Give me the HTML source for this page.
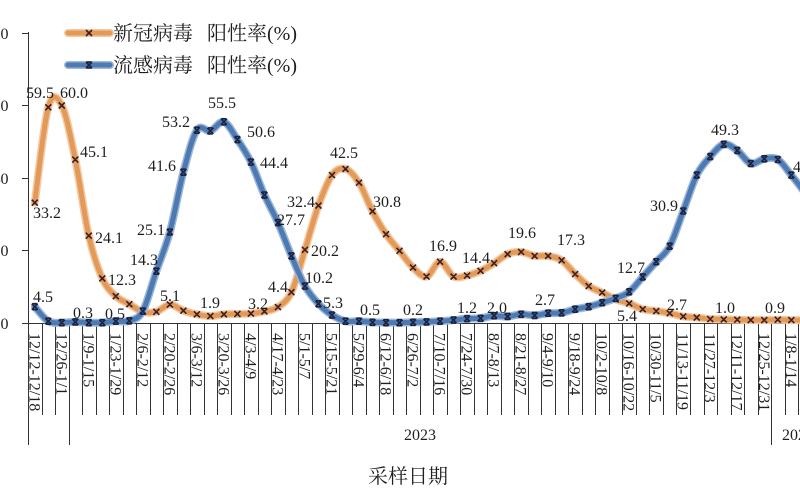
<!DOCTYPE html>
<html><head><meta charset="utf-8">
<style>
html,body{margin:0;padding:0;background:#fff;width:800px;height:500px;overflow:hidden;}
svg{display:block;}
text{font-family:"Liberation Serif","Noto Serif CJK SC",serif;fill:#1e1e1e;}
.dl{font-size:16px;}
.xl{font-size:16px;}
.yl{font-size:16px;text-anchor:end;}
</style></head>
<body>
<svg id="c" width="800" height="500" viewBox="0 0 800 500" xmlns="http://www.w3.org/2000/svg">
<rect width="800" height="500" fill="#fff"/>
<g id="axes" stroke="#333" stroke-width="1" fill="none">
  <line x1="28.5" y1="32" x2="28.5" y2="323"/>
  <line x1="28" y1="323.5" x2="800" y2="323.5"/>
  <line x1="22" y1="33.5" x2="28.5" y2="33.5"/>
  <line x1="22" y1="105.5" x2="28.5" y2="105.5"/>
  <line x1="22" y1="178.5" x2="28.5" y2="178.5"/>
  <line x1="22" y1="250.5" x2="28.5" y2="250.5"/>
  <line x1="22" y1="323.5" x2="28.5" y2="323.5"/>
</g>
<g id="vlines" stroke="#333" stroke-width="1"></g>

<g>
<text class="yl" x="8.5" y="39">80</text>
<text class="yl" x="8.5" y="111">60</text>
<text class="yl" x="8.5" y="184">40</text>
<text class="yl" x="8.5" y="256">20</text>
<text class="yl" x="8.5" y="329">0</text>
</g>

<g>
<text class="xl" transform="translate(29.3,333) rotate(90)">12/12-12/18</text>
<text class="xl" transform="translate(56.3,333) rotate(90)">12/26-1/1</text>
<text class="xl" transform="translate(83.3,333) rotate(90)">1/9-1/15</text>
<text class="xl" transform="translate(110.3,333) rotate(90)">1/23-1/29</text>
<text class="xl" transform="translate(137.3,333) rotate(90)">2/6-2/12</text>
<text class="xl" transform="translate(164.4,333) rotate(90)">2/20-2/26</text>
<text class="xl" transform="translate(191.4,333) rotate(90)">3/6-3/12</text>
<text class="xl" transform="translate(218.4,333) rotate(90)">3/20-3/26</text>
<text class="xl" transform="translate(245.4,333) rotate(90)">4/3-4/9</text>
<text class="xl" transform="translate(272.4,333) rotate(90)">4/17-4/23</text>
<text class="xl" transform="translate(299.4,333) rotate(90)">5/1-5/7</text>
<text class="xl" transform="translate(326.5,333) rotate(90)">5/15-5/21</text>
<text class="xl" transform="translate(353.5,333) rotate(90)">5/29-6/4</text>
<text class="xl" transform="translate(380.5,333) rotate(90)">6/12-6/18</text>
<text class="xl" transform="translate(407.5,333) rotate(90)">6/26-7/2</text>
<text class="xl" transform="translate(434.5,333) rotate(90)">7/10-7/16</text>
<text class="xl" transform="translate(461.6,333) rotate(90)">7/24-7/30</text>
<text class="xl" transform="translate(488.6,333) rotate(90)">8/7-8/13</text>
<text class="xl" transform="translate(515.6,333) rotate(90)">8/21-8/27</text>
<text class="xl" transform="translate(542.6,333) rotate(90)">9/4-9/10</text>
<text class="xl" transform="translate(569.6,333) rotate(90)">9/18-9/24</text>
<text class="xl" transform="translate(596.6,333) rotate(90)">10/2-10/8</text>
<text class="xl" transform="translate(623.7,333) rotate(90)">10/16-10/22</text>
<text class="xl" transform="translate(650.7,333) rotate(90)">10/30-11/5</text>
<text class="xl" transform="translate(677.7,333) rotate(90)">11/13-11/19</text>
<text class="xl" transform="translate(704.7,333) rotate(90)">11/27-12/3</text>
<text class="xl" transform="translate(731.7,333) rotate(90)">12/11-12/17</text>
<text class="xl" transform="translate(758.8,333) rotate(90)">12/25-12/31</text>
<text class="xl" transform="translate(785.8,333) rotate(90)">1/8-1/14</text>
</g>

<text x="420" y="440" font-size="16" text-anchor="middle">2023</text>
<text x="782" y="440" font-size="16">2024</text>
<text x="368" y="483" font-size="20" fill="#333">采样日期</text>

<g id="series"></g>

<g class="dl">
<text x="33" y="218">33.2</text>
<text x="26" y="98">59.5</text>
<text x="60" y="98">60.0</text>
<text x="80" y="157">45.1</text>
<text x="95" y="243">24.1</text>
<text x="108" y="285">12.3</text>
<text x="160" y="301">5.1</text>
<text x="200" y="308">1.9</text>
<text x="248" y="309">3.2</text>
<text x="268" y="292">4.4</text>
<text x="311" y="256">20.2</text>
<text x="287" y="207">32.4</text>
<text x="330" y="158">42.5</text>
<text x="373" y="207">30.8</text>
<text x="429" y="251">16.9</text>
<text x="462" y="263">14.4</text>
<text x="508" y="238">19.6</text>
<text x="557" y="245">17.3</text>
<text x="617" y="321">5.4</text>
<text x="667" y="310">2.7</text>
<text x="715" y="313">1.0</text>
<text x="765" y="313">0.9</text>

<text x="33" y="302">4.5</text>
<text x="73" y="318">0.3</text>
<text x="105" y="319">0.5</text>
<text x="130" y="265">14.3</text>
<text x="137" y="235">25.1</text>
<text x="148" y="171">41.6</text>
<text x="162" y="127">53.2</text>
<text x="208" y="108">55.5</text>
<text x="247" y="137">50.6</text>
<text x="260" y="168">44.4</text>
<text x="277" y="225">27.7</text>
<text x="305" y="283">10.2</text>
<text x="323" y="308">5.3</text>
<text x="360" y="315">0.5</text>
<text x="403" y="315">0.2</text>
<text x="457" y="313">1.2</text>
<text x="487" y="313">2.0</text>
<text x="535" y="305">2.7</text>
<text x="617" y="273">12.7</text>
<text x="650" y="211">30.9</text>
<text x="711" y="135">49.3</text>
<text x="793" y="172">40.8</text>
</g>

<g id="legend">
  <line x1="68" y1="33" x2="110" y2="33" stroke="#F3C9A2" stroke-width="8" stroke-linecap="round"/>
  <line x1="68" y1="33" x2="110" y2="33" stroke="#E39A59" stroke-width="5" stroke-linecap="round"/>
  <path d="M86,30 L92,36 M86,36 L92,30" stroke="#3b1f25" stroke-width="1.6"/>
  <line x1="68" y1="65" x2="110" y2="65" stroke="#9DB7D8" stroke-width="8" stroke-linecap="round"/>
  <line x1="68" y1="65" x2="110" y2="65" stroke="#4D7AB3" stroke-width="5" stroke-linecap="round"/>
  <path d="M86,62 L92,68 M86,68 L92,62 M86.5,62 L91.5,62 M86.5,68 L91.5,68" stroke="#1b2340" stroke-width="1.6"/>
  <text x="113" y="40" font-size="20" fill="#333">新冠病毒<tspan x="207">阳性率(%)</tspan></text>
  <text x="113" y="72" font-size="20" fill="#333">流感病毒<tspan x="207">阳性率(%)</tspan></text>
</g>
</svg>
<script>
(function(){
var NS="http://www.w3.org/2000/svg";
var W=13.51, X0=28;
function cx(i){return X0+W*(i+0.5);}
function vy(v){return 323-v*3.625;}
var vl=document.getElementById("vlines");
for(var k=0;k<=58;k++){
  var x=X0+W*k; if(x>800)break;
  var xx=Math.round(x)+0.5;
  var l=document.createElementNS(NS,"line");
  var long=(k===0||k===3||k===55);
  l.setAttribute("x1",xx);l.setAttribute("x2",xx);
  l.setAttribute("y1",323);l.setAttribute("y2",long?445:415);
  vl.appendChild(l);
}
var orange=[33.2,59.5,60.0,45.1,24.1,12.3,7.4,5.2,3.1,3.1,5.1,3.4,2.4,1.9,2.4,2.5,2.6,3.2,4.4,8.5,20.2,32.4,40.8,42.5,38.7,30.8,24.5,19.9,15.3,12.8,16.9,12.8,13.1,14.4,16.5,19.0,19.6,18.5,18.5,17.3,13.5,10.2,8.4,6.5,5.4,3.8,3.3,2.7,1.8,1.5,1.1,1.0,0.9,0.8,0.8,0.9,0.8,0.8];
var blue=[4.5,0.5,0.1,0.3,0.1,0.1,0.5,0.6,3.3,14.3,25.1,41.6,53.2,53.0,55.5,50.6,44.4,35.3,27.7,18.5,10.2,5.3,2.2,0.5,0.5,0.2,0.1,0.1,0.2,0.3,0.5,0.8,1.2,1.3,2.0,1.8,2.4,2.1,2.7,2.8,3.8,4.5,5.6,6.8,8.6,12.7,16.9,21.2,30.9,40.8,45.9,49.3,47.6,44.0,45.3,45.1,40.8,36];
function f(n){return n.toFixed(2);}
function path(vals){
  var p=vals.map(function(v,i){return [cx(i),vy(v)];});
  var d="M"+f(p[0][0])+","+f(p[0][1]);
  for(var i=0;i<p.length-1;i++){
    var p0=p[i-1]||p[i],p1=p[i],p2=p[i+1],p3=p[i+2]||p[i+1];
    var c1x=p1[0]+(p2[0]-p0[0])/6,c1y=p1[1]+(p2[1]-p0[1])/6;
    var c2x=p2[0]-(p3[0]-p1[0])/6,c2y=p2[1]-(p3[1]-p1[1])/6;
    d+=" C"+f(c1x)+","+f(c1y)+" "+f(c2x)+","+f(c2y)+" "+f(p2[0])+","+f(p2[1]);
  }
  return d;
}
var g=document.getElementById("series");
function add(vals,halo,core,mk,caps){
  var d=path(vals);
  var a=document.createElementNS(NS,"path");
  a.setAttribute("d",d);a.setAttribute("fill","none");a.setAttribute("stroke",halo);
  a.setAttribute("stroke-width","8");a.setAttribute("stroke-linecap","round");a.setAttribute("stroke-linejoin","round");
  g.appendChild(a);
  var b=document.createElementNS(NS,"path");
  b.setAttribute("d",d);b.setAttribute("fill","none");b.setAttribute("stroke",core);
  b.setAttribute("stroke-width","5");b.setAttribute("stroke-linecap","round");b.setAttribute("stroke-linejoin","round");
  g.appendChild(b);
  var md="";
  for(var i=0;i<vals.length;i++){
    var x=cx(i),y=vy(vals[i]);
    md+="M"+f(x-3)+","+f(y-3)+"L"+f(x+3)+","+f(y+3)+"M"+f(x-3)+","+f(y+3)+"L"+f(x+3)+","+f(y-3);
    if(caps){md+="M"+f(x-2.5)+","+f(y-3)+"L"+f(x+2.5)+","+f(y-3)+"M"+f(x-2.5)+","+f(y+3)+"L"+f(x+2.5)+","+f(y+3);}
  }
  var m=document.createElementNS(NS,"path");
  m.setAttribute("d",md);m.setAttribute("fill","none");m.setAttribute("stroke",mk);m.setAttribute("stroke-width","1.6");
  g.appendChild(m);
}
add(orange,"#F3C9A2","#E39A59","#3b1f25",false);
add(blue,"#9DB7D8","#4D7AB3","#1b2340",true);
})();
</script>
</body></html>
